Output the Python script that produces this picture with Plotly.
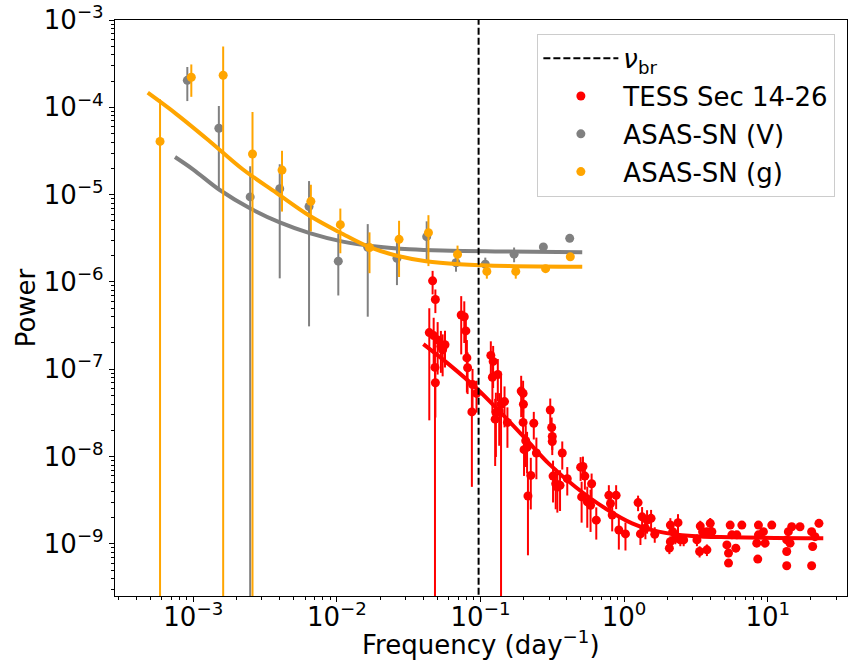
import plotly.graph_objects as go

# ---------------- data ----------------
nu_br = 0.097

# TESS Sec 14-26
tess_freq = [0.0464, 0.0485, 0.0440, 0.0472, 0.0503, 0.0530, 0.0566, 0.0545, 0.0482, 0.0485,
             0.0734, 0.0771, 0.0791, 0.0804, 0.0813, 0.0880, 0.0871, 0.0938,
             0.118, 0.1225, 0.121, 0.132, 0.128, 0.1265, 0.135, 0.147, 0.154, 0.139,
             0.192, 0.198, 0.199, 0.198, 0.235, 0.2065, 0.201, 0.211, 0.224, 0.214, 0.245,
             0.306, 0.313, 0.316, 0.316, 0.371, 0.320, 0.334, 0.343, 0.358, 0.402,
             0.498, 0.517, 0.533, 0.594, 0.506, 0.554, 0.584, 0.640,
             0.783, 0.880, 0.804, 0.826, 0.919, 1.022,
             1.251, 1.334, 1.445, 1.541, 1.299, 1.407, 1.634,
             2.099, 2.179, 2.373, 2.099, 2.274, 2.462, 2.598, 2.066,
             3.390, 3.520, 3.979, 4.085, 3.215, 3.355, 3.772, 3.772,
             5.477, 6.603, 5.627, 6.093, 5.194, 5.998, 5.333, 5.333,
             8.617, 10.67, 8.617, 9.333, 8.388, 9.587, 8.524,
             13.92, 14.69, 16.78, 13.56, 14.30, 13.56, 13.56,
             20.22, 22.73, 21.33, 20.55, 20.22]
tess_power = [1.03e-6, 6.30e-7, 2.63e-7, 2.43e-7, 2.17e-7, 1.83e-7, 1.91e-7, 1.67e-7, 1.05e-7, 7.00e-8,
              4.18e-7, 4.00e-7, 2.75e-7, 1.35e-7, 1.04e-7, 6.70e-8, 3.25e-8, 5.29e-8,
              1.44e-7, 1.23e-7, 8.11e-8, 8.70e-8, 3.19e-8, 2.68e-8, 3.33e-8, 4.26e-8, 2.46e-8, 3.97e-8,
              5.62e-8, 5.29e-8, 3.97e-8, 2.46e-8, 2.41e-8, 1.52e-8, 1.20e-8, 1.28e-8, 6.08e-9, 3.54e-9, 1.10e-8,
              3.42e-8, 2.15e-8, 1.70e-8, 1.49e-8, 1.10e-8, 5.98e-9, 4.89e-9, 4.48e-9, 4.68e-9, 5.58e-9,
              7.56e-9, 7.69e-9, 5.98e-9, 4.89e-9, 3.45e-9, 3.03e-9, 2.77e-9, 1.87e-9,
              3.60e-9, 3.60e-9, 2.90e-9, 2.14e-9, 1.44e-9, 1.30e-9,
              2.97e-9, 2.04e-9, 1.87e-9, 1.96e-9, 1.30e-9, 1.51e-9, 1.29e-9,
              1.64e-9, 1.38e-9, 1.75e-9, 1.06e-9, 1.16e-9, 1.11e-9, 1.11e-9, 8.93e-10,
              1.60e-9, 1.38e-9, 1.72e-9, 1.38e-9, 1.11e-9, 8.19e-10, 8.55e-10, 1.38e-9,
              1.64e-9, 1.64e-9, 1.27e-9, 1.27e-9, 9.74e-10, 8.93e-10, 7.84e-10, 6.03e-10,
              1.64e-9, 1.64e-9, 1.27e-9, 1.38e-9, 1.02e-9, 1.02e-9, 6.70e-10,
              1.38e-9, 1.57e-9, 1.57e-9, 1.11e-9, 1.02e-9, 8.19e-10, 5.62e-10,
              1.38e-9, 1.72e-9, 1.21e-9, 9.33e-10, 5.62e-10]
tess_err = [3.1e-7, 1.9e-7, 2.37e-7, 1.46e-7, 1.3e-7, 9.2e-8, 8.6e-8, 8.4e-8, 1.1e-7, 4.2e-8,
            2.7e-7, 2.0e-7, 1.4e-7, 8.1e-8, 5.2e-8, 3.4e-8, 2.8e-8, 2.1e-8,
            6.5e-8, 6.2e-8, 4.9e-8, 4.4e-8, 2.2e-8, 1.9e-8, 2.0e-8, 2.1e-8, 1.2e-8, 4.4e-8,
            2.8e-8, 2.1e-8, 1.6e-8, 1.0e-8, 8.4e-9, 7.6e-9, 6.0e-9, 6.4e-9, 3.6e-9, 2.8e-9, 5.5e-9,
            1.2e-8, 6.5e-9, 5.1e-9, 4.5e-9, 3.9e-9, 3.0e-9, 2.4e-9, 2.2e-9, 2.3e-9, 2.0e-9,
            2.3e-9, 2.3e-9, 1.8e-9, 1.5e-9, 1.7e-9, 1.5e-9, 1.4e-9, 7.5e-10,
            1.1e-9, 1.1e-9, 8.7e-10, 7.5e-10, 5.8e-10, 4.6e-10,
            6.0e-10, 6.0e-10, 5.6e-10, 4.9e-10, 3.3e-10, 3.8e-10, 2.6e-10,
            3.3e-10, 2.8e-10, 4.4e-10, 1.6e-10, 1.7e-10, 1.7e-10, 1.7e-10, 1.3e-10,
            2.4e-10, 2.1e-10, 2.6e-10, 2.1e-10, 1.7e-10, 1.2e-10, 1.3e-10, 1.4e-10,
            1.6e-10, 1.6e-10, 1.3e-10, 1.3e-10, 1.0e-10, 9e-11, 8e-11, 0,
            1.6e-10, 1.6e-10, 1.3e-10, 1.4e-10, 1.0e-10, 1.0e-10, 0,
            1.4e-10, 1.6e-10, 1.6e-10, 1.1e-10, 1.0e-10, 8e-11, 0,
            1.4e-10, 1.7e-10, 1.2e-10, 9e-11, 0]

# ASAS-SN (V)
asv_freq = [9.09e-4, 1.507e-3, 2.49e-3, 4.0e-3, 6.40e-3, 1.023e-2, 1.64e-2, 2.62e-2,
            4.22e-2, 6.75e-2, 0.108, 0.1714, 0.274, 0.418]
asv_power = [2.04e-4, 5.77e-5, 9.42e-6, 1.17e-5, 7.31e-6, 1.73e-6, 2.50e-6, 1.87e-6,
             3.30e-6, 1.66e-6, 1.60e-6, 2.08e-6, 2.52e-6, 3.16e-6]
asv_err_plus = [8.6e-5, 4.6e-5, 1.18e-5, 1.06e-5, 7.0e-6, 1.81e-6, 2.1e-6, 9.5e-7,
                1.65e-6, 3.5e-7, 3.0e-7, 4.0e-7, 2.0e-7, 1.0e-7]
asv_err_minus = [8.6e-5, 4.6e-5, 1.18e-5, 1.06e-5, 7.0e-6, 1.03e-6, 2.1e-6, 9.5e-7,
                 1.65e-6, 3.5e-7, 3.0e-7, 4.0e-7, 2.0e-7, 1.0e-7]

# ASAS-SN (g)
asg_freq = [5.87e-4, 9.69e-4, 1.615e-3, 2.585e-3, 4.15e-3, 6.59e-3, 1.057e-2, 1.687e-2,
            2.71e-2, 4.34e-2, 6.92e-2, 0.1107, 0.176, 0.284, 0.422]
asg_power = [4.07e-5, 2.21e-4, 2.33e-4, 2.92e-5, 1.91e-5, 8.39e-6, 4.53e-6, 2.48e-6,
             3.08e-6, 3.67e-6, 2.07e-6, 1.32e-6, 1.32e-6, 1.42e-6, 1.94e-6]
asg_err = [8.3e-5, 8.9e-5, 2.65e-4, 5.9e-5, 1.27e-5, 4.6e-6, 2.4e-6, 1.22e-6,
           1.94e-6, 2.15e-6, 5.4e-7, 2.3e-7, 2.3e-7, 1.0e-7, 1.5e-7]

# fitted models (sampled along the drawn curves)
tess_fit_freq = [0.0400, 0.0606, 0.0929, 0.1348, 0.2065, 0.300, 0.459, 0.742, 1.137, 1.742,
                 2.969, 5.627, 24.37]
tess_fit_power = [1.94e-7, 1.13e-7, 6.14e-8, 3.33e-8, 1.59e-8, 8.25e-9, 4.48e-9, 2.54e-9,
                  1.72e-9, 1.38e-9, 1.23e-9, 1.19e-9, 1.16e-9]
asv_fit_freq = [7.46e-4, 1.0e-3, 1.53e-3, 2.48e-3, 4.00e-3, 6.46e-3, 1.10e-2, 1.88e-2,
                3.20e-2, 5.45e-2, 0.158, 0.511]
asv_fit_power = [2.70e-5, 1.94e-5, 1.13e-5, 6.98e-6, 4.81e-6, 3.63e-6, 2.90e-6, 2.55e-6,
                 2.37e-6, 2.29e-6, 2.23e-6, 2.19e-6]
asg_fit_freq = [4.82e-4, 7.67e-4, 1.306e-3, 2.22e-3, 3.79e-3, 6.46e-3, 1.10e-2, 1.69e-2,
                2.58e-2, 4.18e-2, 7.11e-2, 0.158, 0.511]
asg_fit_power = [1.47e-4, 8.32e-5, 4.07e-5, 1.94e-5, 1.05e-5, 5.73e-6, 3.54e-6, 2.50e-6,
                 2.01e-6, 1.73e-6, 1.60e-6, 1.52e-6, 1.49e-6]

x_tick_exps = [-3, -2, -1, 0, 1]
y_tick_exps = [-9, -8, -7, -6, -5, -4, -3]
x_range_log = [-3.545, 1.552]
y_range_log = [-9.597, -2.9995]

# ---------------- figure ----------------
RED = "#ff0000"
GREY = "#808080"
ORANGE = "#ffa500"
FONT = "DejaVu Sans"

fig = go.Figure()

def add_err_series(x, y, ep, em, color, name, rank):
    fig.add_trace(go.Scatter(
        x=x, y=y, mode="markers", name=name, legendrank=rank, legendgroup=name,
        marker=dict(color=color, size=9),
        error_y=dict(type="data", symmetric=False, array=ep, arrayminus=em,
                     color=color, thickness=2, width=0),
    ))

def add_fit(x, y, color, group):
    fig.add_trace(go.Scatter(
        x=x, y=y, mode="lines", showlegend=False, hoverinfo="skip", legendgroup=group,
        line=dict(color=color, width=4, shape="spline", smoothing=1.0),
    ))

add_err_series(tess_freq, tess_power, tess_err, tess_err, RED, "TESS Sec 14-26", 2)
add_fit(tess_fit_freq, tess_fit_power, RED, "TESS Sec 14-26")
add_err_series(asv_freq, asv_power, asv_err_plus, asv_err_minus, GREY, "ASAS-SN (V)", 3)
add_fit(asv_fit_freq, asv_fit_power, GREY, "ASAS-SN (V)")
add_err_series(asg_freq, asg_power, asg_err, asg_err, ORANGE, "ASAS-SN (g)", 4)
add_fit(asg_fit_freq, asg_fit_power, ORANGE, "ASAS-SN (g)")

# break frequency line spanning the full y range
fig.add_trace(go.Scatter(
    x=[nu_br, nu_br], y=[10 ** (y_range_log[0] - 0.1), 10 ** (y_range_log[1] + 0.1)],
    mode="lines", name="<i>ν</i><sub>br</sub>", legendrank=1, legendgroup="nubr",
    line=dict(color="black", width=2, dash="7px,3px"),
))

def minor_vals(lo, hi):
    vals = []
    for e in range(lo, hi + 1):
        for m in range(2, 10):
            vals.append(m * 10.0 ** e)
    return vals

axis_common = dict(
    type="log", showgrid=False, zeroline=False,
    showline=True, linecolor="black", linewidth=1.2, mirror=True,
    ticks="outside", ticklen=5, tickwidth=1.2, tickcolor="black",
    tickfont=dict(family=FONT, size=26, color="black"),
    ticklabeloverflow="allow",
)

fig.update_xaxes(
    **axis_common,
    range=x_range_log,
    tickmode="array",
    tickvals=[10.0 ** e for e in x_tick_exps],
    ticktext=["10<sup>%s</sup>" % (str(e).replace("-", "−")) for e in x_tick_exps],
    ticklabelstandoff=-7,
    minor=dict(tickmode="array", tickvals=minor_vals(-4, 1), ticks="outside",
               ticklen=3, tickwidth=1, tickcolor="black"),
)
fig.update_yaxes(
    **axis_common,
    range=y_range_log,
    tickmode="array",
    tickvals=[10.0 ** e for e in y_tick_exps],
    ticktext=["10<sup>%s</sup>" % (str(e).replace("-", "−")) for e in y_tick_exps],
    minor=dict(tickmode="array", tickvals=minor_vals(-10, -3), ticks="outside",
               ticklen=3, tickwidth=1, tickcolor="black"),
    title=dict(text="Power", font=dict(family=FONT, size=26, color="black"), standoff=0),
)

# x-axis title placed just below the tick labels
fig.add_annotation(
    text="Frequency (day<sup>−1</sup>)", xref="paper", yref="paper",
    x=0.5, y=-0.0486, xanchor="center", yanchor="top", showarrow=False,
    font=dict(family=FONT, size=26, color="black"),
)

fig.update_layout(
    width=849, height=668, autosize=False,
    margin=dict(l=115, r=1, t=16, b=72, pad=0),
    paper_bgcolor="white", plot_bgcolor="white",
    font=dict(family=FONT, size=26, color="black"),
    showlegend=True,
    legend=dict(
        x=0.577, y=0.976, xanchor="left", yanchor="top",
        bgcolor="white", bordercolor="#cccccc", borderwidth=1,
        font=dict(family=FONT, size=26, color="black"),
        tracegroupgap=1, itemwidth=75,
    ),
)

fig.write_html("out.html")
